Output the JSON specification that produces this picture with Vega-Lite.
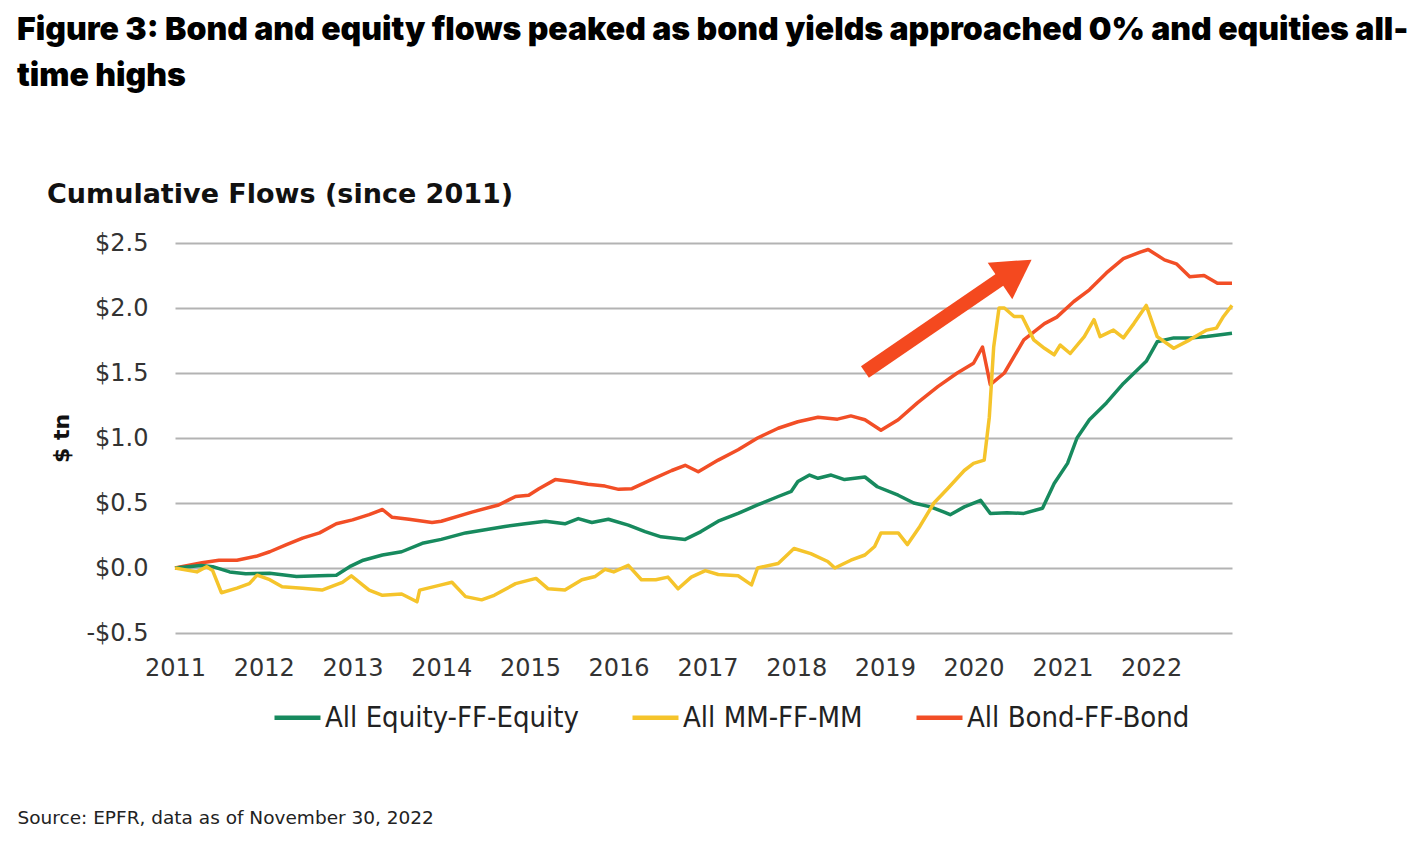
{
  "$schema": "https://vega.github.io/schema/vega-lite/v6.json",
  "background": "white",
  "padding": {"left": 17, "top": 14, "right": 20, "bottom": 10},
  "title": {
    "text": ["Figure 3: Bond and equity flows peaked as bond yields approached 0% and equities all-", "time highs"],
    "anchor": "start",
    "frame": "bounds",
    "font": "Inter",
    "fontSize": 32,
    "fontWeight": 900,
    "color": "#000000",
    "lineHeight": 46,
    "offset": 88
  },
  "datasets": {
    "flows": [
      {"date": "2011-01-01", "series": "All Bond-FF-Bond", "value": 0.0},
      {"date": "2011-04-22", "series": "All Bond-FF-Bond", "value": 0.04},
      {"date": "2011-07-01", "series": "All Bond-FF-Bond", "value": 0.06},
      {"date": "2011-09-13", "series": "All Bond-FF-Bond", "value": 0.06},
      {"date": "2011-12-01", "series": "All Bond-FF-Bond", "value": 0.09},
      {"date": "2012-01-26", "series": "All Bond-FF-Bond", "value": 0.125},
      {"date": "2012-04-04", "series": "All Bond-FF-Bond", "value": 0.18},
      {"date": "2012-06-09", "series": "All Bond-FF-Bond", "value": 0.23},
      {"date": "2012-08-18", "series": "All Bond-FF-Bond", "value": 0.27},
      {"date": "2012-10-26", "series": "All Bond-FF-Bond", "value": 0.34},
      {"date": "2013-01-01", "series": "All Bond-FF-Bond", "value": 0.37},
      {"date": "2013-03-10", "series": "All Bond-FF-Bond", "value": 0.41},
      {"date": "2013-05-04", "series": "All Bond-FF-Bond", "value": 0.45},
      {"date": "2013-06-13", "series": "All Bond-FF-Bond", "value": 0.39},
      {"date": "2013-08-21", "series": "All Bond-FF-Bond", "value": 0.375},
      {"date": "2013-11-24", "series": "All Bond-FF-Bond", "value": 0.35},
      {"date": "2014-01-01", "series": "All Bond-FF-Bond", "value": 0.36},
      {"date": "2014-05-07", "series": "All Bond-FF-Bond", "value": 0.43},
      {"date": "2014-08-25", "series": "All Bond-FF-Bond", "value": 0.485},
      {"date": "2014-11-03", "series": "All Bond-FF-Bond", "value": 0.55},
      {"date": "2014-12-27", "series": "All Bond-FF-Bond", "value": 0.56},
      {"date": "2015-02-07", "series": "All Bond-FF-Bond", "value": 0.61},
      {"date": "2015-04-15", "series": "All Bond-FF-Bond", "value": 0.68},
      {"date": "2015-06-20", "series": "All Bond-FF-Bond", "value": 0.665},
      {"date": "2015-08-28", "series": "All Bond-FF-Bond", "value": 0.645},
      {"date": "2015-11-06", "series": "All Bond-FF-Bond", "value": 0.63},
      {"date": "2016-01-01", "series": "All Bond-FF-Bond", "value": 0.605},
      {"date": "2016-02-25", "series": "All Bond-FF-Bond", "value": 0.61},
      {"date": "2016-05-15", "series": "All Bond-FF-Bond", "value": 0.68},
      {"date": "2016-08-07", "series": "All Bond-FF-Bond", "value": 0.75},
      {"date": "2016-10-01", "series": "All Bond-FF-Bond", "value": 0.79},
      {"date": "2016-11-24", "series": "All Bond-FF-Bond", "value": 0.74},
      {"date": "2017-02-14", "series": "All Bond-FF-Bond", "value": 0.83},
      {"date": "2017-05-07", "series": "All Bond-FF-Bond", "value": 0.91},
      {"date": "2017-07-26", "series": "All Bond-FF-Bond", "value": 1.0},
      {"date": "2017-10-19", "series": "All Bond-FF-Bond", "value": 1.075},
      {"date": "2018-01-08", "series": "All Bond-FF-Bond", "value": 1.125},
      {"date": "2018-04-01", "series": "All Bond-FF-Bond", "value": 1.16},
      {"date": "2018-06-20", "series": "All Bond-FF-Bond", "value": 1.145},
      {"date": "2018-08-14", "series": "All Bond-FF-Bond", "value": 1.17},
      {"date": "2018-10-11", "series": "All Bond-FF-Bond", "value": 1.14},
      {"date": "2018-12-16", "series": "All Bond-FF-Bond", "value": 1.06},
      {"date": "2019-02-25", "series": "All Bond-FF-Bond", "value": 1.14},
      {"date": "2019-05-15", "series": "All Bond-FF-Bond", "value": 1.27},
      {"date": "2019-08-07", "series": "All Bond-FF-Bond", "value": 1.395},
      {"date": "2019-10-26", "series": "All Bond-FF-Bond", "value": 1.5},
      {"date": "2020-01-01", "series": "All Bond-FF-Bond", "value": 1.575},
      {"date": "2020-02-07", "series": "All Bond-FF-Bond", "value": 1.7},
      {"date": "2020-03-10", "series": "All Bond-FF-Bond", "value": 1.41},
      {"date": "2020-05-07", "series": "All Bond-FF-Bond", "value": 1.5},
      {"date": "2020-07-26", "series": "All Bond-FF-Bond", "value": 1.755},
      {"date": "2020-10-19", "series": "All Bond-FF-Bond", "value": 1.88},
      {"date": "2020-12-09", "series": "All Bond-FF-Bond", "value": 1.93},
      {"date": "2021-02-17", "series": "All Bond-FF-Bond", "value": 2.05},
      {"date": "2021-04-22", "series": "All Bond-FF-Bond", "value": 2.14},
      {"date": "2021-07-01", "series": "All Bond-FF-Bond", "value": 2.27},
      {"date": "2021-09-09", "series": "All Bond-FF-Bond", "value": 2.38},
      {"date": "2021-11-17", "series": "All Bond-FF-Bond", "value": 2.43},
      {"date": "2021-12-20", "series": "All Bond-FF-Bond", "value": 2.45},
      {"date": "2022-02-25", "series": "All Bond-FF-Bond", "value": 2.37},
      {"date": "2022-04-15", "series": "All Bond-FF-Bond", "value": 2.34},
      {"date": "2022-06-09", "series": "All Bond-FF-Bond", "value": 2.24},
      {"date": "2022-08-07", "series": "All Bond-FF-Bond", "value": 2.25},
      {"date": "2022-10-01", "series": "All Bond-FF-Bond", "value": 2.19},
      {"date": "2022-11-30", "series": "All Bond-FF-Bond", "value": 2.19},

      {"date": "2011-01-01", "series": "All Equity-FF-Equity", "value": 0.0},
      {"date": "2011-04-19", "series": "All Equity-FF-Equity", "value": 0.02},
      {"date": "2011-06-05", "series": "All Equity-FF-Equity", "value": 0.01},
      {"date": "2011-08-14", "series": "All Equity-FF-Equity", "value": -0.03},
      {"date": "2011-10-19", "series": "All Equity-FF-Equity", "value": -0.045},
      {"date": "2012-01-26", "series": "All Equity-FF-Equity", "value": -0.04},
      {"date": "2012-05-15", "series": "All Equity-FF-Equity", "value": -0.065},
      {"date": "2012-08-18", "series": "All Equity-FF-Equity", "value": -0.06},
      {"date": "2012-10-26", "series": "All Equity-FF-Equity", "value": -0.055},
      {"date": "2012-12-20", "series": "All Equity-FF-Equity", "value": 0.01},
      {"date": "2013-02-14", "series": "All Equity-FF-Equity", "value": 0.06},
      {"date": "2013-05-04", "series": "All Equity-FF-Equity", "value": 0.1},
      {"date": "2013-07-22", "series": "All Equity-FF-Equity", "value": 0.125},
      {"date": "2013-10-15", "series": "All Equity-FF-Equity", "value": 0.19},
      {"date": "2014-01-01", "series": "All Equity-FF-Equity", "value": 0.22},
      {"date": "2014-04-11", "series": "All Equity-FF-Equity", "value": 0.27},
      {"date": "2014-09-20", "series": "All Equity-FF-Equity", "value": 0.32},
      {"date": "2014-12-12", "series": "All Equity-FF-Equity", "value": 0.34},
      {"date": "2015-03-06", "series": "All Equity-FF-Equity", "value": 0.36},
      {"date": "2015-05-25", "series": "All Equity-FF-Equity", "value": 0.34},
      {"date": "2015-07-19", "series": "All Equity-FF-Equity", "value": 0.38},
      {"date": "2015-09-13", "series": "All Equity-FF-Equity", "value": 0.35},
      {"date": "2015-11-20", "series": "All Equity-FF-Equity", "value": 0.375},
      {"date": "2016-02-10", "series": "All Equity-FF-Equity", "value": 0.33},
      {"date": "2016-04-19", "series": "All Equity-FF-Equity", "value": 0.28},
      {"date": "2016-06-24", "series": "All Equity-FF-Equity", "value": 0.24},
      {"date": "2016-10-01", "series": "All Equity-FF-Equity", "value": 0.22},
      {"date": "2016-12-05", "series": "All Equity-FF-Equity", "value": 0.28},
      {"date": "2017-02-14", "series": "All Equity-FF-Equity", "value": 0.36},
      {"date": "2017-05-07", "series": "All Equity-FF-Equity", "value": 0.42},
      {"date": "2017-07-26", "series": "All Equity-FF-Equity", "value": 0.485},
      {"date": "2017-10-19", "series": "All Equity-FF-Equity", "value": 0.55},
      {"date": "2017-12-12", "series": "All Equity-FF-Equity", "value": 0.59},
      {"date": "2018-01-08", "series": "All Equity-FF-Equity", "value": 0.665},
      {"date": "2018-02-25", "series": "All Equity-FF-Equity", "value": 0.715},
      {"date": "2018-04-01", "series": "All Equity-FF-Equity", "value": 0.69},
      {"date": "2018-05-25", "series": "All Equity-FF-Equity", "value": 0.715},
      {"date": "2018-07-19", "series": "All Equity-FF-Equity", "value": 0.68},
      {"date": "2018-10-11", "series": "All Equity-FF-Equity", "value": 0.7},
      {"date": "2018-12-01", "series": "All Equity-FF-Equity", "value": 0.625},
      {"date": "2019-02-25", "series": "All Equity-FF-Equity", "value": 0.56},
      {"date": "2019-04-30", "series": "All Equity-FF-Equity", "value": 0.5},
      {"date": "2019-07-08", "series": "All Equity-FF-Equity", "value": 0.47},
      {"date": "2019-09-02", "series": "All Equity-FF-Equity", "value": 0.43},
      {"date": "2019-09-27", "series": "All Equity-FF-Equity", "value": 0.41},
      {"date": "2019-11-24", "series": "All Equity-FF-Equity", "value": 0.47},
      {"date": "2020-01-30", "series": "All Equity-FF-Equity", "value": 0.52},
      {"date": "2020-03-10", "series": "All Equity-FF-Equity", "value": 0.42},
      {"date": "2020-05-18", "series": "All Equity-FF-Equity", "value": 0.425},
      {"date": "2020-07-26", "series": "All Equity-FF-Equity", "value": 0.42},
      {"date": "2020-10-11", "series": "All Equity-FF-Equity", "value": 0.46},
      {"date": "2020-11-28", "series": "All Equity-FF-Equity", "value": 0.65},
      {"date": "2021-01-22", "series": "All Equity-FF-Equity", "value": 0.805},
      {"date": "2021-03-02", "series": "All Equity-FF-Equity", "value": 1.0},
      {"date": "2021-04-22", "series": "All Equity-FF-Equity", "value": 1.14},
      {"date": "2021-07-01", "series": "All Equity-FF-Equity", "value": 1.27},
      {"date": "2021-09-09", "series": "All Equity-FF-Equity", "value": 1.42},
      {"date": "2021-11-03", "series": "All Equity-FF-Equity", "value": 1.52},
      {"date": "2021-12-12", "series": "All Equity-FF-Equity", "value": 1.59},
      {"date": "2022-01-26", "series": "All Equity-FF-Equity", "value": 1.74},
      {"date": "2022-04-04", "series": "All Equity-FF-Equity", "value": 1.77},
      {"date": "2022-06-09", "series": "All Equity-FF-Equity", "value": 1.77},
      {"date": "2022-08-18", "series": "All Equity-FF-Equity", "value": 1.78},
      {"date": "2022-09-27", "series": "All Equity-FF-Equity", "value": 1.79},
      {"date": "2022-11-30", "series": "All Equity-FF-Equity", "value": 1.805},

      {"date": "2011-01-01", "series": "All MM-FF-MM", "value": 0.0},
      {"date": "2011-04-01", "series": "All MM-FF-MM", "value": -0.03},
      {"date": "2011-05-11", "series": "All MM-FF-MM", "value": 0.01},
      {"date": "2011-06-05", "series": "All MM-FF-MM", "value": -0.02},
      {"date": "2011-07-11", "series": "All MM-FF-MM", "value": -0.19},
      {"date": "2011-09-13", "series": "All MM-FF-MM", "value": -0.155},
      {"date": "2011-11-03", "series": "All MM-FF-MM", "value": -0.12},
      {"date": "2011-12-05", "series": "All MM-FF-MM", "value": -0.055},
      {"date": "2012-01-26", "series": "All MM-FF-MM", "value": -0.09},
      {"date": "2012-03-17", "series": "All MM-FF-MM", "value": -0.145},
      {"date": "2012-06-09", "series": "All MM-FF-MM", "value": -0.155},
      {"date": "2012-08-28", "series": "All MM-FF-MM", "value": -0.17},
      {"date": "2012-11-20", "series": "All MM-FF-MM", "value": -0.11},
      {"date": "2012-12-27", "series": "All MM-FF-MM", "value": -0.06},
      {"date": "2013-03-10", "series": "All MM-FF-MM", "value": -0.17},
      {"date": "2013-05-04", "series": "All MM-FF-MM", "value": -0.21},
      {"date": "2013-07-22", "series": "All MM-FF-MM", "value": -0.2},
      {"date": "2013-09-23", "series": "All MM-FF-MM", "value": -0.26},
      {"date": "2013-10-04", "series": "All MM-FF-MM", "value": -0.17},
      {"date": "2014-01-01", "series": "All MM-FF-MM", "value": -0.13},
      {"date": "2014-02-14", "series": "All MM-FF-MM", "value": -0.11},
      {"date": "2014-04-11", "series": "All MM-FF-MM", "value": -0.22},
      {"date": "2014-06-16", "series": "All MM-FF-MM", "value": -0.245},
      {"date": "2014-08-07", "series": "All MM-FF-MM", "value": -0.21},
      {"date": "2014-11-03", "series": "All MM-FF-MM", "value": -0.12},
      {"date": "2015-01-26", "series": "All MM-FF-MM", "value": -0.08},
      {"date": "2015-03-17", "series": "All MM-FF-MM", "value": -0.16},
      {"date": "2015-05-25", "series": "All MM-FF-MM", "value": -0.17},
      {"date": "2015-08-03", "series": "All MM-FF-MM", "value": -0.09},
      {"date": "2015-09-27", "series": "All MM-FF-MM", "value": -0.065},
      {"date": "2015-11-06", "series": "All MM-FF-MM", "value": -0.01},
      {"date": "2015-12-12", "series": "All MM-FF-MM", "value": -0.03},
      {"date": "2016-02-10", "series": "All MM-FF-MM", "value": 0.02},
      {"date": "2016-04-04", "series": "All MM-FF-MM", "value": -0.09},
      {"date": "2016-06-02", "series": "All MM-FF-MM", "value": -0.09},
      {"date": "2016-07-22", "series": "All MM-FF-MM", "value": -0.07},
      {"date": "2016-09-02", "series": "All MM-FF-MM", "value": -0.16},
      {"date": "2016-10-26", "series": "All MM-FF-MM", "value": -0.07},
      {"date": "2016-12-23", "series": "All MM-FF-MM", "value": -0.02},
      {"date": "2017-02-14", "series": "All MM-FF-MM", "value": -0.05},
      {"date": "2017-05-07", "series": "All MM-FF-MM", "value": -0.06},
      {"date": "2017-07-01", "series": "All MM-FF-MM", "value": -0.13},
      {"date": "2017-07-26", "series": "All MM-FF-MM", "value": 0.0},
      {"date": "2017-10-19", "series": "All MM-FF-MM", "value": 0.035},
      {"date": "2017-12-23", "series": "All MM-FF-MM", "value": 0.15},
      {"date": "2018-03-02", "series": "All MM-FF-MM", "value": 0.11},
      {"date": "2018-05-11", "series": "All MM-FF-MM", "value": 0.05},
      {"date": "2018-06-09", "series": "All MM-FF-MM", "value": 0.0},
      {"date": "2018-08-14", "series": "All MM-FF-MM", "value": 0.06},
      {"date": "2018-10-11", "series": "All MM-FF-MM", "value": 0.1},
      {"date": "2018-11-20", "series": "All MM-FF-MM", "value": 0.165},
      {"date": "2018-12-16", "series": "All MM-FF-MM", "value": 0.27},
      {"date": "2019-02-25", "series": "All MM-FF-MM", "value": 0.27},
      {"date": "2019-04-04", "series": "All MM-FF-MM", "value": 0.18},
      {"date": "2019-05-25", "series": "All MM-FF-MM", "value": 0.32},
      {"date": "2019-07-22", "series": "All MM-FF-MM", "value": 0.5},
      {"date": "2019-09-16", "series": "All MM-FF-MM", "value": 0.61},
      {"date": "2019-11-24", "series": "All MM-FF-MM", "value": 0.75},
      {"date": "2020-01-01", "series": "All MM-FF-MM", "value": 0.805},
      {"date": "2020-02-14", "series": "All MM-FF-MM", "value": 0.83},
      {"date": "2020-03-06", "series": "All MM-FF-MM", "value": 1.16},
      {"date": "2020-03-24", "series": "All MM-FF-MM", "value": 1.7},
      {"date": "2020-04-15", "series": "All MM-FF-MM", "value": 2.0},
      {"date": "2020-05-07", "series": "All MM-FF-MM", "value": 2.0},
      {"date": "2020-06-16", "series": "All MM-FF-MM", "value": 1.935},
      {"date": "2020-07-19", "series": "All MM-FF-MM", "value": 1.935},
      {"date": "2020-09-05", "series": "All MM-FF-MM", "value": 1.755},
      {"date": "2020-10-19", "series": "All MM-FF-MM", "value": 1.69},
      {"date": "2020-11-28", "series": "All MM-FF-MM", "value": 1.64},
      {"date": "2020-12-23", "series": "All MM-FF-MM", "value": 1.715},
      {"date": "2021-02-02", "series": "All MM-FF-MM", "value": 1.65},
      {"date": "2021-04-01", "series": "All MM-FF-MM", "value": 1.78},
      {"date": "2021-05-11", "series": "All MM-FF-MM", "value": 1.91},
      {"date": "2021-06-05", "series": "All MM-FF-MM", "value": 1.78},
      {"date": "2021-07-30", "series": "All MM-FF-MM", "value": 1.83},
      {"date": "2021-09-09", "series": "All MM-FF-MM", "value": 1.77},
      {"date": "2021-10-22", "series": "All MM-FF-MM", "value": 1.88},
      {"date": "2021-12-12", "series": "All MM-FF-MM", "value": 2.02},
      {"date": "2022-01-26", "series": "All MM-FF-MM", "value": 1.78},
      {"date": "2022-04-04", "series": "All MM-FF-MM", "value": 1.69},
      {"date": "2022-06-09", "series": "All MM-FF-MM", "value": 1.755},
      {"date": "2022-08-18", "series": "All MM-FF-MM", "value": 1.83},
      {"date": "2022-09-27", "series": "All MM-FF-MM", "value": 1.845},
      {"date": "2022-10-26", "series": "All MM-FF-MM", "value": 1.935},
      {"date": "2022-11-30", "series": "All MM-FF-MM", "value": 2.02}
    ],
    "arrowShaft": [
      {"date": "2018-10-11", "value": 1.508, "date2": "2020-04-22", "value2": 2.223}
    ],
    "arrowHead": [
      {"date": "2020-06-23", "value": 2.29}
    ]
  },
  "vconcat": [
    {
      "width": 1057,
      "height": 390,
      "title": {
        "text": "Cumulative Flows (since 2011)",
        "anchor": "start",
        "frame": "group",
        "dx": -128,
        "font": "DejaVu Sans",
        "fontSize": 27,
        "fontWeight": "bold",
        "color": "#111111",
        "offset": 22
      },
      "layer": [
        {
          "data": {"name": "flows"},
          "mark": {"type": "line", "strokeWidth": 3.5, "strokeJoin": "round"},
          "encoding": {
            "x": {
              "field": "date",
              "type": "temporal",
              "scale": {
                "type": "utc",
                "domain": [
                  {"year": 2011, "month": 1, "date": 1, "utc": true},
                  {"year": 2022, "month": 11, "date": 30, "utc": true}
                ]
              },
              "axis": {
                "title": "Source: EPFR, data as of November 30, 2022",
                "titleAlign": "left",
                "titleAnchor": "start",
                "titleX": -158,
                "titleY": 190,
                "titleBaseline": "alphabetic",
                "titleFont": "DejaVu Sans",
                "titleFontSize": 18.5,
                "titleFontWeight": "normal",
                "titleColor": "#222222",
                "format": "%Y",
                "tickCount": {"interval": "year", "step": 1},
                "labelFont": "DejaVu Sans",
                "labelFontSize": 24,
                "labelColor": "#333333",
                "labelPadding": 23,
                "labelFlush": false,
                "labelOverlap": false,
                "labelBound": false,
                "ticks": false,
                "domain": false,
                "grid": false
              }
            },
            "y": {
              "field": "value",
              "type": "quantitative",
              "scale": {"domain": [-0.5, 2.5], "nice": false, "zero": false},
              "axis": {
                "title": "$ tn",
                "titleFont": "DejaVu Sans",
                "titleFontSize": 22,
                "titleFontWeight": "bold",
                "titleColor": "#111111",
                "titlePadding": 12,
                "values": [-0.5, 0, 0.5, 1, 1.5, 2, 2.5],
                "labelExpr": "(datum.value < 0 ? '-$' : '$') + format(abs(datum.value), '.1f')",
                "labelFont": "DejaVu Sans",
                "labelFontSize": 24,
                "labelColor": "#333333",
                "labelPadding": 27,
                "ticks": false,
                "domain": false,
                "grid": true,
                "gridColor": "#b3b3b3",
                "gridWidth": 2
              }
            },
            "color": {
              "field": "series",
              "type": "nominal",
              "scale": {
                "domain": ["All Equity-FF-Equity", "All MM-FF-MM", "All Bond-FF-Bond"],
                "range": ["#178a5e", "#f5c42b", "#f24e26"]
              },
              "legend": {
                "orient": "none",
                "legendX": 97,
                "legendY": 449,
                "direction": "horizontal",
                "columns": 3,
                "title": null,
                "labelFont": "DejaVu Sans Condensed",
                "labelFontSize": 29,
                "labelColor": "#222222",
                "labelLimit": 500,
                "labelOffset": 2,
                "columnPadding": 44,
                "symbolType": "stroke",
                "symbolSize": 2116,
                "symbolStrokeWidth": 4.5
              }
            }
          }
        },
        {
          "mark": {"type": "rule", "color": "#000000", "strokeWidth": 3},
          "encoding": {"y": {"datum": 0, "type": "quantitative"}}
        },
        {
          "data": {"name": "arrowShaft"},
          "mark": {"type": "rule", "color": "#f4491f", "strokeWidth": 14, "strokeCap": "butt"},
          "encoding": {
            "x": {"field": "date", "type": "temporal", "axis": {"title": "Source: EPFR, data as of November 30, 2022"}},
            "y": {"field": "value", "type": "quantitative", "axis": {"title": "$ tn"}},
            "x2": {"field": "date2"},
            "y2": {"field": "value2"}
          }
        },
        {
          "data": {"name": "arrowHead"},
          "mark": {"type": "point", "shape": "triangle-right", "angle": 326, "size": 1936, "filled": true, "color": "#f4491f", "opacity": 1, "strokeWidth": 0},
          "encoding": {
            "x": {"field": "date", "type": "temporal", "axis": {"title": "Source: EPFR, data as of November 30, 2022"}},
            "y": {"field": "value", "type": "quantitative", "axis": {"title": "$ tn"}}
          }
        }
      ]
    }
  ],
  "config": {
    "view": {"stroke": null}
  }
}
